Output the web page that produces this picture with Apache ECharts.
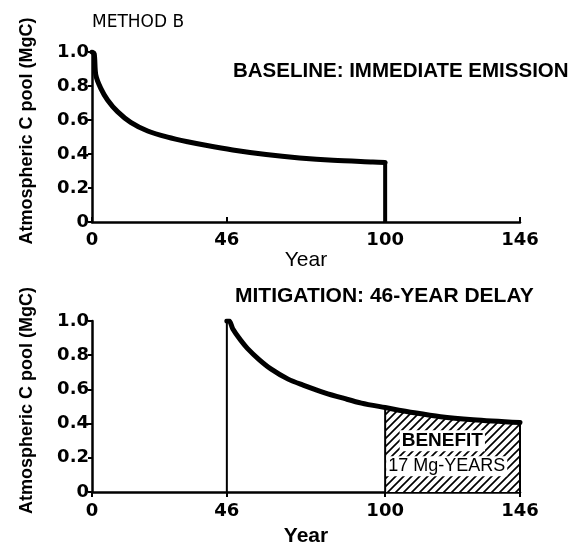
<!DOCTYPE html>
<html>
<head>
<meta charset="utf-8">
<script src="https://cdn.jsdelivr.net/npm/echarts@6/dist/echarts.min.js"></script>
<style>
html,body{margin:0;padding:0;background:#fff;}
#chart{width:574px;height:544px;}
</style>
</head>
<body>
<div id="chart"></div>
<script>
// ---- data ----
const yearTicks = [0, 46, 100, 146];
const poolTicks = [0, 0.2, 0.4, 0.6, 0.8, 1.0];

// Baseline: immediate emission (decay until year 100, then cut to 0)
const baselineYears  = [0, 0.75, 1.3, 3, 5.3, 8.7, 13.2, 19, 25.8, 32.6, 38.8, 48, 59.4, 70.8, 82.2, 95.8, 100];
const baselineValues = [1.0, 0.99, 0.865, 0.786, 0.718, 0.649, 0.586, 0.535, 0.499, 0.472, 0.451, 0.424, 0.397, 0.377, 0.363, 0.353, 0.35];

// Mitigation: 46-year delay
const delayYears  = [46, 46.8, 48, 50.6, 53, 56.9, 61, 66.9, 72, 79.4, 86, 91.9, 100, 110, 118.9, 130, 146];
const delayValues = [1.0, 1.0, 0.955, 0.89, 0.84, 0.776, 0.72, 0.66, 0.625, 0.58, 0.547, 0.52, 0.494, 0.463, 0.44, 0.423, 0.406];

const benefitStart = 100;
const benefitLabel = 'BENEFIT';
const benefitAmount = '17 Mg-YEARS';
const benefitLabelPos = [119.5, 0.3];
const benefitAmountPos = [121, 0.15];

// ---- build series data ----
const baselineData = baselineYears.map((x, i) => [x, baselineValues[i]]);
const bEnd = baselineData[baselineData.length - 1];
const baselineDrop = [[bEnd[0], bEnd[1]], [bEnd[0], 0]];
const delayData = delayYears.map((x, i) => [x, delayValues[i]]);
const delayRise = [[delayYears[0], 0], [delayYears[0], delayValues[0]]];
const benefitData = delayData.filter(d => d[0] >= benefitStart);
const bFirst = benefitData[0], bLast = benefitData[benefitData.length - 1];
const benefitLeft = [[bFirst[0], 0], [bFirst[0], bFirst[1]]];
const benefitRight = [[bLast[0], 0], [bLast[0], bLast[1]]];

// hatch pattern
const pc = document.createElement('canvas');
pc.width = 8; pc.height = 8;
const g = pc.getContext('2d');
g.fillStyle = '#fff'; g.fillRect(0, 0, 8, 8);
g.strokeStyle = '#000'; g.lineWidth = 1.7; g.lineCap = 'square';
g.beginPath();
g.moveTo(0, 8); g.lineTo(8, 0);
g.moveTo(-4, 4); g.lineTo(4, -4);
g.moveTo(4, 12); g.lineTo(12, 4);
g.stroke();

const FONT = 'Liberation Sans';
const TICKFONT = 'DejaVu Sans';
const fmtY = v => (v === 0 ? '0' : v.toFixed(1));

function xAxisDef(gridIndex, nameBold, nameGap, tickInside, labelMargin) {
  return {
    type: 'value', gridIndex, min: 0, max: 146,
    name: 'Year', nameLocation: 'middle', nameGap,
    nameTextStyle: { fontFamily: FONT, fontSize: 21, fontWeight: nameBold ? 'bold' : 'normal', color: '#000' },
    axisLine: { show: true, onZero: false, lineStyle: { color: '#000', width: 2.5 } },
    axisTick: { show: true, inside: tickInside, length: 5, customValues: yearTicks, lineStyle: { color: '#000', width: 2 } },
    axisLabel: { customValues: yearTicks, margin: labelMargin, fontFamily: TICKFONT, fontSize: 18, fontWeight: 'bold', color: '#000' },
    splitLine: { show: false }
  };
}
function yAxisDef(gridIndex) {
  return {
    type: 'value', gridIndex, min: 0, max: 1, interval: 0.2,
    name: 'Atmospheric C pool (MgC)', nameLocation: 'middle', nameGap: 56,
    nameTextStyle: { fontFamily: FONT, fontSize: 18, fontWeight: 'bold', color: '#000', padding: [0, 0, 0, 12] },
    axisLine: { show: true, lineStyle: { color: '#000', width: 2.5 } },
    axisTick: { show: true, length: 4, lineStyle: { color: '#000', width: 2 } },
    axisLabel: { margin: 3, formatter: fmtY, fontFamily: TICKFONT, fontSize: 18, fontWeight: 'bold', color: '#000' },
    splitLine: { show: false }
  };
}

const chart = echarts.init(document.getElementById('chart'), null, { renderer: 'canvas' });
chart.setOption({
  backgroundColor: '#fff',
  animation: false,
  title: [
    { text: 'METHOD B', left: 87, top: 9, textStyle: { fontFamily: 'DejaVu Sans', fontSize: 17, fontWeight: 'normal', color: '#000' } },
    { text: 'BASELINE: IMMEDIATE EMISSION', left: 228, top: 56, textStyle: { fontFamily: FONT, fontSize: 20.5, fontWeight: 'bold', color: '#000' } },
    { text: 'MITIGATION: 46-YEAR DELAY', left: 230, top: 281, textStyle: { fontFamily: FONT, fontSize: 21, fontWeight: 'bold', color: '#000' } }
  ],
  grid: [
    { left: 92, right: 54, top: 52, height: 170, outerBoundsMode: 'none', containLabel: false },
    { left: 92, right: 54, top: 321, height: 171, outerBoundsMode: 'none', containLabel: false }
  ],
  xAxis: [xAxisDef(0, false, 27, true, 9), xAxisDef(1, true, 34, false, 10)],
  yAxis: [yAxisDef(0), yAxisDef(1)],
  series: [
    { type: 'line', xAxisIndex: 0, yAxisIndex: 0, data: baselineData, showSymbol: false, smooth: 0.3,
      lineStyle: { color: '#000', width: 5, cap: 'round', join: 'round' }, z: 5 },
    { type: 'line', xAxisIndex: 0, yAxisIndex: 0, data: baselineDrop, showSymbol: false,
      lineStyle: { color: '#000', width: 4, join: 'round' }, z: 5 },
    { type: 'line', xAxisIndex: 1, yAxisIndex: 1, data: benefitData, showSymbol: false, smooth: 0.3,
      lineStyle: { width: 0 }, areaStyle: { color: { image: pc, repeat: 'repeat' }, opacity: 1, origin: 'start' }, z: 1 },
    { type: 'line', xAxisIndex: 1, yAxisIndex: 1, data: benefitLeft, showSymbol: false,
      lineStyle: { color: '#000', width: 2 }, z: 3 },
    { type: 'line', xAxisIndex: 1, yAxisIndex: 1, data: benefitRight, showSymbol: false,
      lineStyle: { color: '#000', width: 2 }, z: 3 },
    { type: 'line', xAxisIndex: 1, yAxisIndex: 1, data: delayRise, showSymbol: false,
      lineStyle: { color: '#000', width: 2 }, z: 3 },
    { type: 'line', xAxisIndex: 1, yAxisIndex: 1, data: delayData, showSymbol: false, smooth: 0.3,
      lineStyle: { color: '#000', width: 5, cap: 'round', join: 'round' }, z: 5 },
    { type: 'scatter', xAxisIndex: 1, yAxisIndex: 1, symbolSize: 0, silent: true, z: 6,
      itemStyle: { opacity: 1 },
      data: [
        { value: benefitLabelPos, label: { formatter: benefitLabel, fontSize: 19, fontWeight: 'bold' } },
        { value: benefitAmountPos, label: { formatter: benefitAmount, fontSize: 18, fontWeight: 'normal' } }
      ],
      label: { show: true, position: 'inside', fontFamily: FONT, color: '#000', opacity: 1, backgroundColor: '#fff', padding: [1, 2] } }
  ]
});
</script>
</body>
</html>
